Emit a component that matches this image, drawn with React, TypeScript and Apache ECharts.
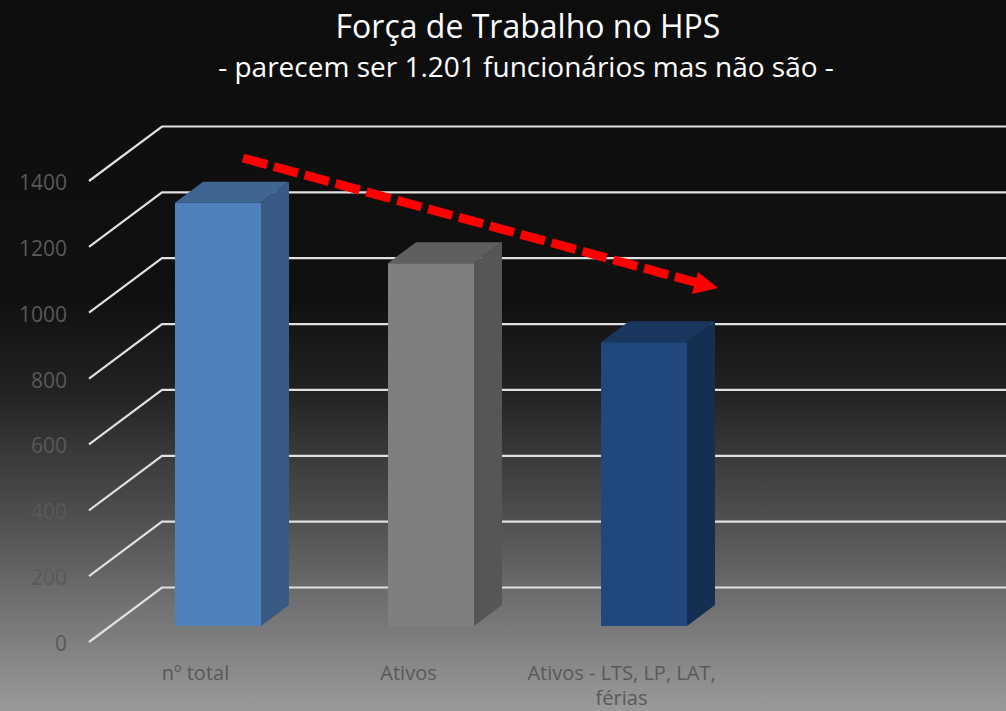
import React, { useEffect, useRef } from "react";
import * as echarts from "echarts";

const titleText = "Força de Trabalho no HPS";
const subtitleText = "- parecem ser 1.201 funcionários mas não são -";
const categories = ["nº total", "Ativos", "Ativos - LTS, LP, LAT,\nférias", ""];
const values = [1285, 1102, 862];
const ticks = [0, 200, 400, 600, 800, 1000, 1200, 1400];
const frontColors = ["#4f81bd", "#7f7f7f", "#1f497d"];
const topColors = ["#3f6591", "#5f5f5f", "#19365e"];
const sideColors = ["#385a84", "#565656", "#152f52"];

const FONT = "'Open Sans', sans-serif";
const DX = 73;
const DY = -54.5;

function renderGrid(params: any, api: any) {
  const v = api.value(0);
  const p = api.coord([0, v]);
  const x0 = api.coord([0, 0])[0] - (api.size([1, 0])[0] as number) / 2;
  const y = p[1];
  return {
    type: "polyline",
    shape: {
      points: [
        [x0, y],
        [x0 + DX, y + DY],
        [1010, y + DY],
      ],
    },
    style: { fill: "none", stroke: "#e0e0e0", lineWidth: 2.2 },
  };
}

function renderBar(params: any, api: any) {
  const i = api.value(0);
  const top = api.coord([i, api.value(1)]);
  const base = api.coord([i, 0]);
  const w = 86;
  const d = 28;
  const rise = 21;
  const left = top[0] - 20.5;
  const right = left + w;
  const baseY = base[1] - 16;
  const topY = top[1] - 16;
  return {
    type: "group",
    children: [
      {
        type: "polygon",
        shape: { points: [[right, topY], [right + d, topY - rise], [right + d, baseY - rise], [right, baseY]] },
        style: { fill: sideColors[i] },
      },
      {
        type: "polygon",
        shape: { points: [[left, topY], [left + d, topY - rise], [right + d, topY - rise], [right, topY]] },
        style: { fill: topColors[i] },
      },
      {
        type: "rect",
        shape: { x: left, y: topY, width: w, height: baseY - topY },
        style: { fill: frontColors[i] },
      },
    ],
  };
}

export default function App() {
  const ref = useRef<HTMLDivElement>(null);
  useEffect(() => {
    document.body.style.margin = "0";
    const chart = echarts.init(ref.current!, null, { renderer: "svg" });
    chart.setOption({
      animation: false,
      backgroundColor: {
        type: "linear",
        x: 0,
        y: 0,
        x2: 0,
        y2: 1,
        colorStops: [
          { offset: 0, color: "#0d0d0d" },
          { offset: 0.42, color: "#101010" },
          { offset: 0.55, color: "#222222" },
          { offset: 0.64, color: "#3a3a3a" },
          { offset: 0.733, color: "#505050" },
          { offset: 0.826, color: "#6a6a6a" },
          { offset: 1, color: "#9a9a9a" },
        ],
      },
      title: [
        {
          text: titleText,
          left: 523,
          top: 4,
          textAlign: "center",
          textStyle: { color: "#ffffff", fontFamily: FONT, fontSize: 32, fontWeight: "normal" },
        },
        {
          text: subtitleText,
          left: 521,
          top: 47,
          textAlign: "center",
          textStyle: { color: "#ffffff", fontFamily: FONT, fontSize: 28, fontWeight: "normal" },
        },
      ],
      grid: { left: 89, top: 181, width: 852, height: 461, outerBoundsMode: "none" },
      xAxis: {
        type: "category",
        data: categories,
        axisLine: { show: false },
        axisTick: { show: false },
        splitLine: { show: false },
        axisLabel: {
          color: "#595959",
          fontFamily: FONT,
          fontSize: 20,
          margin: 18,
          interval: 0,
          lineHeight: 25,
        },
      },
      yAxis: {
        type: "value",
        min: 0,
        max: 1400,
        interval: 200,
        axisLine: { show: false },
        axisTick: { show: false },
        splitLine: { show: false },
        axisLabel: {
          color: "#595959",
          fontFamily: FONT,
          fontSize: 21,
          margin: 22,
          verticalAlign: "top",
          lineHeight: 2,
          formatter: (v: number) => String(v),
        },
      },
      series: [
        {
          type: "custom",
          renderItem: renderGrid,
          data: ticks.map((t) => [t]),
          encode: { y: 0 },
          silent: true,
          z: 1,
        },
        {
          type: "custom",
          renderItem: renderBar,
          data: values.map((v, i) => [i, v]),
          encode: { x: 0, y: 1 },
          silent: true,
          z: 2,
        },
      ],
      graphic: [
        {
          type: "polyline",
          z: 100,
          shape: { points: [[243, 158], [698, 283]] },
          style: { fill: "none", stroke: "#ff0000", lineWidth: 9, lineDash: [25, 7] },
        },
        {
          type: "polygon",
          z: 100,
          shape: { points: [[698, 272], [718, 288], [692, 294]] },
          style: { fill: "#ff0000" },
        },
      ],
    });
    return () => chart.dispose();
  }, []);
  return <div ref={ref} style={{ width: 1006, height: 711 }} />;
}
